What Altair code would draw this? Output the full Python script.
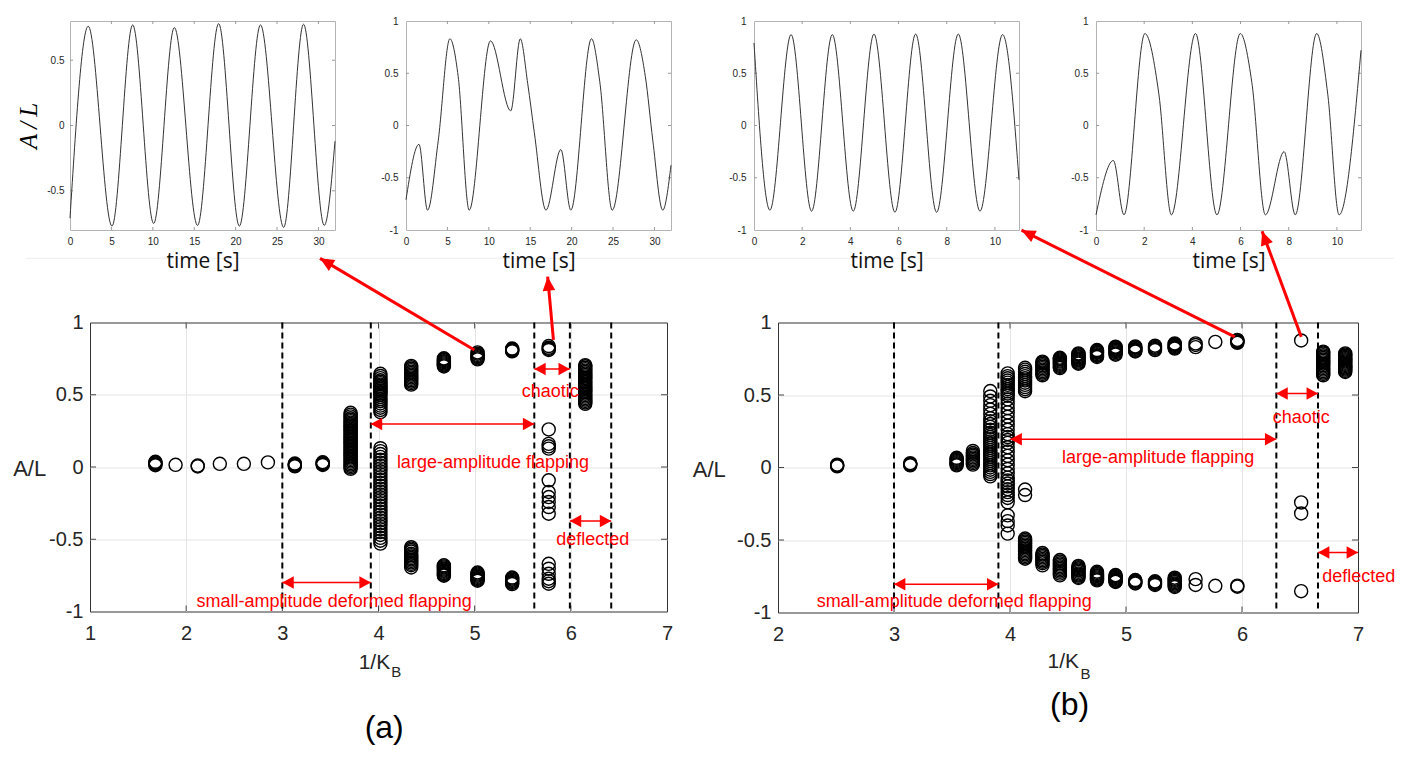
import math
import altair as alt
import pandas as pd

FONT = "Liberation Sans"
RED = "#ff0000"
INK = "#262626"
NUMFMT = "replace(format(datum.value, '~g'), '\u2212', '-')"

# ---------------- top row: A/L time series (extrema and shoulders)
ts1_time = [0, 2.2, 5.07, 7.57, 10.1, 12.6, 15.4, 17.95, 20.45, 23.0, 25.8, 28.2, 30.7, 32]
ts1_amp = [-0.71, 0.76, -0.77, 0.77, -0.75, 0.75, -0.765, 0.78, -0.77, 0.77, -0.78, 0.775, -0.765, -0.12]

ts2_time = [0, 1.57, 2.6, 3.9, 5.3, 6.3, 7.63, 10.2, 12.65, 13.8, 14.7, 15.5, 16.9, 18.7, 19.9,
            22.4, 23.4, 24.9, 27.8, 28.9, 29.8, 31.0, 32]
ts2_amp = [-0.71, -0.18, -0.81, -0.14, 0.83, 0.47, -0.81, 0.81, 0.14, 0.83, 0.40, -0.07, -0.81, -0.23, -0.81,
           0.83, 0.42, -0.81, 0.82, 0.47, -0.14, -0.81, -0.38]

ts3_time = [0, 0.66, 1.54, 2.39, 3.25, 4.12, 4.98, 5.85, 6.71, 7.58, 8.48, 9.38, 10.32, 11]
ts3_amp = [0.79, -0.81, 0.87, -0.82, 0.87, -0.82, 0.875, -0.83, 0.875, -0.83, 0.875, -0.82, 0.87, -0.52]

ts4_time = [0, 0.72, 1.16, 2.03, 2.61, 3.13, 4.13, 5.02, 5.99, 6.47, 7.03, 7.81, 8.27, 9.16, 9.62, 10.09, 11]
ts4_amp = [-0.855, -0.335, -0.855, 0.88, 0.30, -0.855, 0.88, -0.855, 0.88, 0.41, -0.855, -0.25, -0.855, 0.88,
           0.30, -0.855, 0.72]

# ---------------- bottom row: bifurcation diagrams, A/L values per 1/K_B column
a_columns = [
    (1.68, [0.012, 0.018, 0.024, 0.03, 0.036]),
    (1.89, [0.015]),
    (2.12, [0.004, 0.01]),
    (2.35, [0.022]),
    (2.60, [0.022]),
    (2.85, [0.032]),
    (3.13, [0.005, 0.01, 0.015, 0.02, 0.024]),
    (3.42, [0.014, 0.019, 0.024, 0.029, 0.033]),
    (3.71, [-0.013, -0.003, 0.007, 0.017, 0.027, 0.037, 0.047, 0.057, 0.067, 0.077, 0.087, 0.097, 0.107,
            0.117, 0.127, 0.137, 0.147, 0.157, 0.167, 0.177, 0.187, 0.197, 0.207, 0.217, 0.227, 0.237,
            0.247, 0.257, 0.267, 0.277, 0.287, 0.297, 0.307, 0.317, 0.327, 0.337, 0.35, 0.362, 0.375]),
    (4.02, [0.38, 0.395, 0.41, 0.425, 0.44, 0.455, 0.47, 0.485, 0.5, 0.51, 0.52, 0.53, 0.54, 0.55, 0.56,
            0.57, 0.58, 0.59, 0.6, 0.615, 0.63, 0.645,
            0.13, 0.11, 0.09, 0.07, 0.05, 0.03, 0.01, -0.01, -0.03, -0.05, -0.07, -0.09, -0.11, -0.13,
            -0.15, -0.17, -0.19, -0.21, -0.23, -0.25, -0.27, -0.29, -0.31, -0.33, -0.35, -0.37, -0.39,
            -0.41, -0.43, -0.45, -0.47, -0.49, -0.51, -0.53]),
    (4.34, [0.57, 0.58, 0.59, 0.6, 0.61, 0.62, 0.63, 0.64, 0.65, 0.66, 0.67, 0.68, 0.69, 0.70,
            -0.555, -0.565, -0.575, -0.585, -0.6, -0.61, -0.62, -0.63, -0.64, -0.65, -0.66, -0.67,
            -0.68, -0.695]),
    (4.68, [0.696, 0.703, 0.71, 0.717, 0.725, 0.732, 0.74, 0.746, 0.752,
            -0.68, -0.688, -0.695, -0.703, -0.71, -0.718, -0.725, -0.733, -0.74, -0.746, -0.752]),
    (5.03, [0.745, 0.752, 0.76, 0.768, 0.775, 0.784, 0.793,
            -0.73, -0.738, -0.745, -0.752, -0.76, -0.768, -0.775, -0.781, -0.787]),
    (5.39, [0.80, 0.805, 0.81, 0.815, 0.82, -0.765, -0.772, -0.78, -0.788, -0.795, -0.802, -0.81]),
    (5.77, [0.81, 0.818, 0.825, 0.837, 0.26, 0.16, 0.143, 0.127, -0.092, -0.173, -0.208, -0.242, -0.277,
            -0.323, -0.67, -0.704, -0.739, -0.773, -0.79, -0.808]),
    (6.15, [0.437, 0.447, 0.457, 0.467, 0.477, 0.487, 0.497, 0.507, 0.517, 0.527, 0.537, 0.547, 0.557,
            0.567, 0.577, 0.587, 0.597, 0.607, 0.617, 0.627, 0.637, 0.647, 0.657, 0.667, 0.677, 0.687,
            0.697, 0.705]),
]

b_columns = [
    (2.51, [0.008, 0.012, 0.016, 0.02]),
    (3.14, [0.015, 0.02, 0.025, 0.03]),
    (3.54, [0.015, 0.022, 0.03, 0.037, 0.045, 0.052, 0.06, 0.067]),
    (3.68, [0.02, 0.03, 0.04, 0.05, 0.06, 0.07, 0.08, 0.09, 0.1, 0.114]),
    (3.83, [-0.061, -0.045, -0.03, -0.015, 0.0, 0.015, 0.03, 0.045, 0.06, 0.075, 0.09, 0.105, 0.12, 0.135,
            0.15, 0.165, 0.18, 0.195, 0.21, 0.225, 0.24, 0.26, 0.28, 0.3, 0.32, 0.34, 0.37, 0.4, 0.43,
            0.46, 0.49, 0.527]),
    (3.98, [0.649, 0.63, 0.615, 0.6, 0.585, 0.57, 0.555, 0.54, 0.525, 0.51, 0.495, 0.47, 0.44, 0.41, 0.38,
            0.35, 0.32, 0.29, 0.26, 0.23, 0.21, 0.19, 0.17, 0.14, 0.11, 0.08, 0.05, 0.02, -0.01, -0.04,
            -0.07, -0.09, -0.11, -0.13, -0.15, -0.17, -0.19, -0.21, -0.24, -0.33, -0.37, -0.4, -0.456]),
    (4.13, [0.526, 0.54, 0.555, 0.57, 0.585, 0.6, 0.615, 0.63, 0.645, 0.66, 0.675, 0.688, -0.152, -0.19,
            -0.49, -0.5, -0.51, -0.52, -0.53, -0.54, -0.55, -0.56, -0.57, -0.58, -0.59, -0.6, -0.61, -0.62,
            -0.629]),
    (4.28, [0.636, 0.645, 0.655, 0.665, 0.675, 0.685, 0.695, 0.705, 0.715, 0.723, 0.73,
            -0.59, -0.6, -0.61, -0.62, -0.63, -0.64, -0.65, -0.66, -0.675]),
    (4.43, [0.686, 0.693, 0.7, 0.708, 0.715, 0.722, 0.73, 0.737, 0.745, 0.751, 0.757,
            -0.638, -0.648, -0.66, -0.67, -0.68, -0.69, -0.7, -0.71, -0.72, -0.732, -0.744]),
    (4.59, [0.716, 0.723, 0.73, 0.738, 0.745, 0.752, 0.76, 0.767, 0.775, 0.781, 0.787,
            -0.679, -0.687, -0.695, -0.703, -0.71, -0.72, -0.73, -0.738, -0.745, -0.754, -0.762]),
    (4.75, [0.762, 0.769, 0.775, 0.782, 0.79, 0.795, 0.8, 0.805, 0.81,
            -0.719, -0.727, -0.735, -0.743, -0.75, -0.758, -0.765, -0.772, -0.778]),
    (4.91, [0.778, 0.786, 0.795, 0.803, 0.81, 0.816, 0.822, 0.828, 0.833,
            -0.742, -0.748, -0.755, -0.762, -0.768, -0.774, -0.78, -0.785, -0.789]),
    (5.08, [0.8, 0.806, 0.812, 0.818, 0.825, 0.83, 0.835, -0.776, -0.782, -0.788, -0.794, -0.8]),
    (5.25, [0.81, 0.818, 0.825, 0.832, 0.84, -0.785, -0.791, -0.797, -0.803, -0.81]),
    (5.42, [0.82, 0.826, 0.832, 0.838, 0.845, 0.85, 0.856, -0.76, -0.768, -0.775, -0.782, -0.79, -0.8,
            -0.808, -0.816, -0.824]),
    (5.60, [0.83, 0.845, 0.856, -0.77, -0.81]),
    (5.77, [0.866, -0.816]),
    (5.96, [0.86, 0.865, 0.87, 0.875, 0.88, -0.815, -0.822]),
    (6.51, [0.876, -0.241, -0.317, -0.853]),
    (6.70, [0.636, 0.645, 0.655, 0.665, 0.675, 0.685, 0.695, 0.705, 0.715, 0.725, 0.735, 0.745, 0.755,
            0.765, 0.775, 0.785, 0.792, 0.799]),
    (6.89, [0.659, 0.667, 0.675, 0.683, 0.691, 0.699, 0.707, 0.715, 0.723, 0.731, 0.739, 0.747, 0.755,
            0.763, 0.771, 0.779, 0.787]),
]

a_dashed = [3.0, 3.92, 5.62, 5.99, 6.42]
b_dashed = [3.0, 3.9, 6.296, 6.655]

# regime spans (start, end, A/L level) and their labels (text, x, y)
a_spans = [(3.0, 3.92, -0.80), (3.92, 5.62, 0.298), (5.62, 5.99, 0.678), (5.99, 6.42, -0.374)]
a_span_text = ["small-amplitude deformed flapping", "large-amplitude flapping", "chaotic", "deflected"]
a_span_tx = [3.539, 5.190, 5.787, 6.229]
a_span_ty = [-0.971, -0.009, 0.487, -0.540]

b_spans = [(3.0, 3.9, -0.805), (4.004, 6.296, 0.195), (6.296, 6.655, 0.510), (6.655, 7.0, -0.586)]
b_span_text = ["small-amplitude deformed flapping", "large-amplitude flapping", "chaotic", "deflected"]
b_span_tx = [3.519, 5.277, 6.511, 7.006]
b_span_ty = [-0.961, 0.028, 0.310, -0.793]

# pointer arrows from a case to its time series: (tail x, tail y, tip x, tip y) in panel units
a_pointers = [(4.997, 0.81, 3.392, 1.444), (5.819, 0.879, 5.759, 1.317)]
b_pointers = [(5.938, 0.901, 4.099, 1.637), (6.511, 0.901, 6.173, 1.630)]

# axis caption pieces: (text, x, y)
a_caption = [("1/K", 4.1216, -1.40), ("B", 4.132, -1.4554), ("(a)", 4.059, -1.877)]
b_caption = [("1/K", 4.596, -1.386), ("B", 4.607, -1.46), ("(b)", 4.514, -1.708)]

HEAD_S = "M0,0L-1,-0.55L-1,0.55Z"
HEAD_L = "M0,0L-1,-0.45L-1,0.45Z"


def inward_ticks(xdom, ydom, xvals, yvals, W, H, length, X, Y, color):
    lx = length * (xdom[1] - xdom[0]) / W
    ly = length * (ydom[1] - ydom[0]) / H
    rows = []
    for v in xvals:
        if xdom[0] < v < xdom[1]:
            rows.append({"x": v, "x2": v, "y": ydom[0], "y2": ydom[0] + ly})
            rows.append({"x": v, "x2": v, "y": ydom[1], "y2": ydom[1] - ly})
    for v in yvals:
        if ydom[0] < v < ydom[1]:
            rows.append({"x": xdom[0], "x2": xdom[0] + lx, "y": v, "y2": v})
            rows.append({"x": xdom[1], "x2": xdom[1] - lx, "y": v, "y2": v})
    return alt.Chart(pd.DataFrame(rows)).mark_rule(color=color, strokeWidth=1).encode(
        x=X("x:Q"), x2="x2:Q", y=Y("y:Q"), y2="y2:Q")


def top_panel(time, amp, xmax, ylim, xvals, yvals, pad, first=False):
    W, H = 265, 209
    xs = alt.Scale(domain=[0, xmax], nice=False, zero=False)
    ys = alt.Scale(domain=[-ylim, ylim], nice=False, zero=False)
    xaxis = alt.Axis(values=xvals, title="time [s]", grid=False, ticks=False, domain=False,
                     labelFont=FONT, labelFontSize=10, labelColor=INK, labelPadding=6,
                     labelFlush=False, labelOverlap=False,
                     titleFont="Open Sans", titleFontSize=21, titleFontWeight="normal", titleColor="#111111",
                     titleX=W / 2, titleY=37, titleAlign="center", titleBaseline="alphabetic", zindex=1)
    yopts = dict(values=yvals, grid=False, ticks=False, domain=False, labelFont=FONT, labelFontSize=10,
                 labelColor=INK, labelPadding=pad, labelFlush=False, labelOverlap=False, labelExpr=NUMFMT)
    if first:
        yopts.update(title="A\u2009/\u2009L", titleFont="Liberation Serif", titleFontStyle="italic",
                     titleFontWeight="normal", titleFontSize=25, titleColor="black", titleAngle=270,
                     titleX=-33.5, titleY=H / 2, titleAlign="center", titleBaseline="alphabetic")
    else:
        yopts["title"] = None
    yaxis = alt.Axis(**yopts)

    def X(f):
        return alt.X(f, scale=xs, axis=xaxis)

    def Y(f):
        return alt.Y(f, scale=ys, axis=yaxis)

    df = pd.DataFrame({"t": time, "v": amp})
    line = alt.Chart(df).mark_line(interpolate="monotone", color="#333333", strokeWidth=1).encode(
        x=X("t:Q"), y=Y("v:Q"))
    ticks = inward_ticks([0, xmax], [-ylim, ylim], xvals, yvals, W, H, 3, X, Y, "#9a9a9a")
    layers = [ticks, line]
    if first:
        sep = pd.DataFrame({"t": [-5.31], "t2": [159.9], "v": [-1.0166]})
        layers.insert(0, alt.Chart(sep).mark_rule(color="#ededed", strokeWidth=1, clip=False).encode(
            x=X("t:Q"), x2="t2:Q", y=Y("v:Q")))
        mk = pd.DataFrame({"t": [-7.245, 0.0], "v": [0.8842, -1.2593]})
        layers.append(alt.Chart(mk).mark_point(size=4, filled=True, opacity=0, clip=False).encode(
            x=X("t:Q"), y=Y("v:Q")))
    return alt.layer(*layers).properties(width=W, height=H,
                                          view=alt.ViewBackground(stroke="#b4b4b4", strokeWidth=1))


def bottom_panel(columns, xdom, xvals, dashed, spans, span_text, span_tx, span_ty, pointers, caption,
                 W, H, ytx, yty, marker=None):
    sx = W / (xdom[1] - xdom[0])
    sy = H / 2.0
    yvals = [-1, -0.5, 0, 0.5, 1]
    xs = alt.Scale(domain=xdom, nice=False, zero=False)
    ys = alt.Scale(domain=[-1, 1], nice=False, zero=False)
    xedge = "datum.value == %g || datum.value == %g" % (xdom[0], xdom[1])
    xaxis = alt.Axis(values=xvals, title=None, grid=True, gridColor="#e4e4e4",
                     gridOpacity={"condition": {"test": xedge, "value": 0}, "value": 1},
                     ticks=False, domain=False,
                     labelFont=FONT, labelFontSize=20, labelColor=INK, labelPadding=12,
                     labelFlush=False, labelOverlap=False, labelExpr=NUMFMT)
    yaxis = alt.Axis(values=yvals, grid=True, gridColor="#e4e4e4",
                     gridOpacity={"condition": {"test": "abs(datum.value) == 1", "value": 0}, "value": 1},
                     ticks=False, domain=False,
                     labelFont=FONT, labelFontSize=20, labelColor=INK, labelPadding=7,
                     labelFlush=False, labelOverlap=False, labelExpr=NUMFMT,
                     title="A/L", titleFont=FONT, titleFontSize=22, titleFontWeight="normal", titleColor=INK,
                     titleAngle=0, titleAlign="right", titleBaseline="alphabetic", titleX=ytx, titleY=yty)

    def X(f):
        return alt.X(f, scale=xs, axis=xaxis)

    def Y(f):
        return alt.Y(f, scale=ys, axis=yaxis)

    pts = pd.DataFrame([{"x": x, "y": y} for x, vals in columns for y in vals])
    scatter = alt.Chart(pts).mark_point(shape="circle", size=170, filled=False, color="black",
                                        strokeWidth=1.4, opacity=1).encode(x=X("x:Q"), y=Y("y:Q"))

    ticks = inward_ticks(xdom, [-1, 1], xvals, yvals, W, H, 6, X, Y, "#444444")

    dash = alt.Chart(pd.DataFrame({"x": dashed})).mark_rule(color="black", strokeWidth=2,
                                                              strokeDash=[6, 4]).encode(x=X("x:Q"))

    sp = pd.DataFrame([{"x": a, "x2": b, "y": y} for a, b, y in spans])
    span_lines = alt.Chart(sp).mark_rule(color=RED, strokeWidth=1.5, clip=False).encode(
        x=X("x:Q"), x2="x2:Q", y=Y("y:Q"))
    hd = pd.DataFrame([{"x": a, "y": y, "ang": 180} for a, b, y in spans] +
                      [{"x": b, "y": y, "ang": 0} for a, b, y in spans])
    span_heads = alt.Chart(hd).mark_point(shape=HEAD_S, size=520, filled=True, color=RED, opacity=1,
                                          strokeWidth=0, clip=False).encode(
        x=X("x:Q"), y=Y("y:Q"), angle=alt.Angle("ang:Q", scale=None))
    st = pd.DataFrame({"label": span_text, "x": span_tx, "y": span_ty})
    span_labels = alt.Chart(st).mark_text(color=RED, font=FONT, fontSize=18, align="center",
                                          baseline="alphabetic", clip=False).encode(
        x=X("x:Q"), y=Y("y:Q"), text="label:N")

    pr = pd.DataFrame([{"x": a, "y": b, "x2": c, "y2": d} for a, b, c, d in pointers])
    ptr_lines = alt.Chart(pr).mark_rule(color=RED, strokeWidth=3, clip=False).encode(
        x=X("x:Q"), y=Y("y:Q"), x2="x2:Q", y2="y2:Q")
    ph = pd.DataFrame([{"x": c, "y": d,
                        "ang": math.degrees(math.atan2(-(d - b) * sy, (c - a) * sx)) % 360}
                       for a, b, c, d in pointers])
    ptr_heads = alt.Chart(ph).mark_point(shape=HEAD_L, size=784, filled=True, color=RED, opacity=1,
                                         strokeWidth=0, clip=False).encode(
        x=X("x:Q"), y=Y("y:Q"), angle=alt.Angle("ang:Q", scale=None))

    def cap(i, size, color, align):
        return alt.Chart(pd.DataFrame([caption[i]], columns=["t", "x", "y"])).mark_text(
            font=FONT, fontSize=size, color=color, align=align, baseline="alphabetic", clip=False).encode(
            x=X("x:Q"), y=Y("y:Q"), text="t:N")

    layers = [ticks, scatter, dash, span_lines, span_heads, span_labels, ptr_lines, ptr_heads,
              cap(0, 21, INK, "right"), cap(1, 15, INK, "left"), cap(2, 32, "black", "center")]
    if marker is not None:
        layers.append(alt.Chart(pd.DataFrame({"x": [marker[0]], "y": [marker[1]]})).mark_point(
            size=4, filled=True, opacity=0, clip=False).encode(x=X("x:Q"), y=Y("y:Q")))
    return alt.layer(*layers).properties(width=W, height=H,
                                          view=alt.ViewBackground(stroke="#333333", strokeWidth=1))


def spacer(w):
    return alt.Chart(pd.DataFrame({"s": [0]})).mark_point(opacity=0).encode(
        x=alt.X("s:Q", axis=None), y=alt.Y("s:Q", axis=None)).properties(
        width=w, height=1, view=alt.ViewBackground(stroke="transparent"))


t1 = top_panel(ts1_time, ts1_amp, 32, 0.8, [0, 5, 10, 15, 20, 25, 30], [-0.5, 0, 0.5], 6, first=True)
t2 = top_panel(ts2_time, ts2_amp, 32, 1.0, [0, 5, 10, 15, 20, 25, 30], [-1, -0.5, 0, 0.5, 1], 8)
t3 = top_panel(ts3_time, ts3_amp, 11, 1.0, [0, 2, 4, 6, 8, 10], [-1, -0.5, 0, 0.5, 1], 8)
t4 = top_panel(ts4_time, ts4_amp, 11, 1.0, [0, 2, 4, 6, 8, 10], [-1, -0.5, 0, 0.5, 1], 8)

pa = bottom_panel(a_columns, [1, 7], [1, 2, 3, 4, 5, 6, 7], a_dashed, a_spans, a_span_text, a_span_tx,
                  a_span_ty, a_pointers, a_caption, 577, 289, -44.3, 152.5, marker=(0.1754, 1.8478))
pb = bottom_panel(b_columns, [2, 7], [2, 3, 4, 5, 6, 7], b_dashed, b_spans, b_span_text, b_span_tx,
                  b_span_ty, b_pointers, b_caption, 580, 290, -52.7, 154)

row1 = alt.hconcat(t1, spacer(60.3), t2, spacer(73), t3, spacer(66.4), t4, spacing=5, bounds="flush")
row2 = alt.hconcat(spacer(9.3), pa, spacer(90.4), pb, spacing=10, bounds="flush")

chart = alt.vconcat(row1, row2, spacing=-94.5).properties(padding=0).configure(font=FONT)

chart.save("out.html", embed_options={"renderer": "svg", "actions": False})
